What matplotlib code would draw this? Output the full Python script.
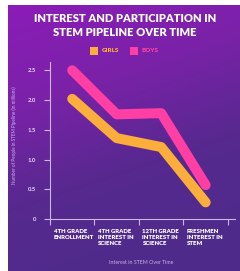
import numpy as np
import matplotlib
matplotlib.use("Agg")
import matplotlib.pyplot as plt
import matplotlib.transforms as mtransforms
from matplotlib.colors import LinearSegmentedColormap

categories = ["4TH GRADE\nENROLLMENT", "4TH GRADE\nINTEREST IN\nSCIENCE",
              "12TH GRADE\nINTEREST IN\nSCIENCE", "FRESHMEN\nINTEREST IN\nSTEM"]
girls = [2.02, 1.36, 1.21, 0.28]
boys = [2.50, 1.76, 1.78, 0.57]
yticks = [0, 0.5, 1.0, 1.5, 2.0, 2.5]
ytick_labels = ["0", "0.5", "1.0", "1.5", "2.0", "2.5"]

GIRL_C = "#FBAE3C"
BOY_C = "#FF3FA4"
AXIS_C = "#C9B5E8"
FONT = "Lato"

W, H = 240, 271
fig = plt.figure(figsize=(W / 100, H / 100), dpi=100)
fig.patch.set_facecolor("white")

# background gradient panel
bg = fig.add_axes([8 / W, 0, 1 - 8 / W, 1 - 5 / H], zorder=-5)
bg.set_axis_off()
cmap = LinearSegmentedColormap.from_list("bgc", ["#8B1CB8", "#7A22A8", "#56298E", "#4E2B8B"])
yy, xx = np.mgrid[0:1:200j, 0:1:200j]
grad = np.clip(yy * 0.85 + xx * 0.25, 0, 1)
bg.imshow(grad, cmap=cmap, aspect="auto", extent=[0, 1, 1, 0], vmin=0, vmax=1)

ax = fig.add_axes([50 / W, 1 - 219 / H, (235 - 50) / W, (219 - 62) / H])
ax.set_facecolor("none")
x = np.arange(len(categories))
ax.plot(x, boys, color=BOY_C, lw=7.2, solid_capstyle="round", solid_joinstyle="round", zorder=3)
ax.plot(x, girls, color=GIRL_C, lw=7.2, solid_capstyle="round", solid_joinstyle="round", zorder=3)

ax.set_xlim(-0.5, 3.66)
ax.set_ylim(0, 2.64)
for s in ["top", "right"]:
    ax.spines[s].set_visible(False)
for s in ["left", "bottom"]:
    ax.spines[s].set_color(AXIS_C)
    ax.spines[s].set_linewidth(0.8)

ax.set_yticks(yticks)
ax.set_yticklabels(ytick_labels, fontsize=4.3, color="#E6DAF5", fontweight="bold", family=FONT)
ax.tick_params(axis="y", length=4, width=0.8, color=AXIS_C, pad=6)
ax.set_xticks(np.arange(len(categories) + 1) - 0.5)
ax.set_xticklabels([])
ax.tick_params(axis="x", length=4, width=0.8, color=AXIS_C)

off = mtransforms.ScaledTranslation(3.5 / 100, -10 / 100, fig.dpi_scale_trans)
trans = mtransforms.blended_transform_factory(ax.transData, ax.transAxes) + off
for i, c in enumerate(categories):
    ax.text(i - 0.5, 0, c, transform=trans, ha="left", va="top", fontsize=4.3,
            fontweight="heavy", color="white", family=FONT, linespacing=1.25)

ax.set_ylabel("Number of People in STEM Pipeline (in millions)", fontsize=3.3,
              color="#C7B2E6", family=FONT)
ax.yaxis.set_label_coords(-0.178, 0.535)
fig.text(141 / W, 1 - 262 / H, "Interest in STEM Over Time", fontsize=3.8,
         color="#C7B2E6", family=FONT, ha="center", va="center")

fig.text(125 / W, 1 - 18 / H, "INTEREST AND PARTICIPATION IN", fontsize=8.0,
         fontweight="heavy", color="white", family=FONT, ha="center", va="center")
fig.text(125 / W, 1 - 33 / H, "STEM PIPELINE OVER TIME", fontsize=8.0,
         fontweight="heavy", color="white", family=FONT, ha="center", va="center")

# legend
fig.patches.append(plt.Rectangle((90 / W, 1 - 55 / H), 8 / W, 8 / H, transform=fig.transFigure,
                                 facecolor=GIRL_C, edgecolor="none"))
fig.text(102 / W, 1 - 51 / H, "GIRLS", fontsize=4.5, fontweight="heavy", color=GIRL_C,
         family=FONT, ha="left", va="center")
fig.patches.append(plt.Rectangle((130 / W, 1 - 55 / H), 8 / W, 8 / H, transform=fig.transFigure,
                                 facecolor=BOY_C, edgecolor="none"))
fig.text(142 / W, 1 - 51 / H, "BOYS", fontsize=4.5, fontweight="heavy", color=BOY_C,
         family=FONT, ha="left", va="center")

fig.savefig("out.png", dpi=100)
